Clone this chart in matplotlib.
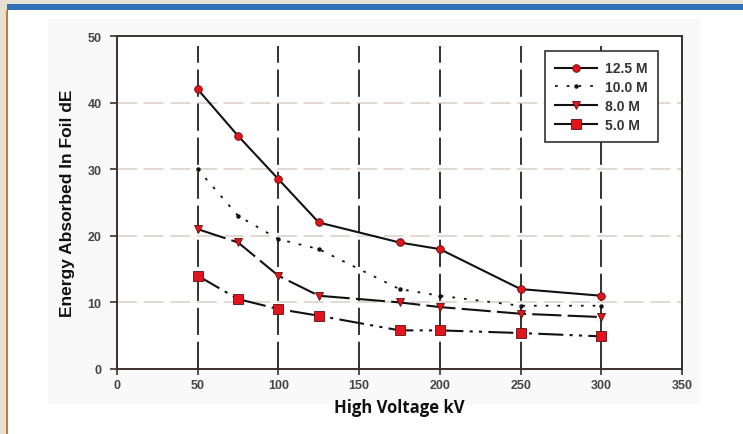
import matplotlib.pyplot as plt
from matplotlib.patches import Rectangle

# data
voltage = [50, 75, 100, 125, 175, 200, 250, 300]
de_12_5 = [42, 35, 28.5, 22, 19, 18, 12, 11]
de_10_0 = [30, 23, 19.5, 18, 12, 11, 9.5, 9.5]
de_8_0 = [21, 19, 14, 11, 10, 9.3, 8.3, 7.8]
de_5_0 = [14, 10.5, 9, 8, 5.8, 5.8, 5.4, 4.9]

x_ticks = [0, 50, 100, 150, 200, 250, 300, 350]
y_ticks = [0, 10, 20, 30, 40, 50]

W, H = 743, 435
fig = plt.figure(figsize=(W / 100, H / 100), dpi=100, facecolor="#e5e1d1")


def fx(px):
    return px / W


def fy(py):
    return 1 - py / H


# page frame: white panel, blue bar on top, orange left rule
fig.patches.append(Rectangle((fx(8), 0), 1 - fx(8), fy(11), transform=fig.transFigure,
                             facecolor="white", edgecolor="none", zorder=-3))
fig.patches.append(Rectangle((fx(48), fy(405)), fx(700 - 48), fy(20) - fy(405),
                             transform=fig.transFigure, facecolor="#f9f9f9",
                             edgecolor="none", zorder=-2))
fig.patches.append(Rectangle((fx(7), fy(11)), 1 - fx(7), fy(5) - fy(11), transform=fig.transFigure,
                             facecolor="#3470b8", edgecolor="none", zorder=-1))
fig.patches.append(Rectangle((fx(6), 0), fx(2), fy(11), transform=fig.transFigure,
                             facecolor="#c8783c", edgecolor="none", zorder=-1))

ax = fig.add_axes([fx(117), fy(370), fx(682 - 117), fy(37) - fy(370)])
ax.set_zorder(2)
ax.set_facecolor("white")

red = "#e3141c"
edge = "#5a1010"
ax.plot(voltage, de_12_5, color="#111111", lw=1.5, marker="o", ms=5.5,
        mfc=red, mec=edge, mew=0.6, label="12.5 M", zorder=5)
ax.plot(voltage, de_10_0, color="#111111", lw=1.3, ls=(0, (1.5, 5)), marker="o", ms=2.2,
        mfc="#111111", mec="#111111", label="10.0 M", zorder=5)
ax.plot(voltage, de_8_0, color="#111111", lw=1.5, ls=(0, (14, 3)), marker="v", ms=6,
        mfc=red, mec=edge, mew=0.6, label="8.0 M", zorder=5)
ax.plot(voltage, de_5_0, color="#111111", lw=1.5, ls=(0, (12, 3, 1.5, 3, 1.5, 3)), marker="s", ms=6.5,
        mfc=red, mec=edge, mew=0.6, label="5.0 M", zorder=5)

ax.set_xlim(0, 350)
ax.set_ylim(0, 50)
ax.set_xticks(x_ticks)
ax.set_yticks(y_ticks)

for x in x_ticks[1:-1]:
    ax.axvline(x, ymax=0.97, color="#3a3030", lw=1.4, ls=(0, (14, 3.5)), zorder=2)
for y in y_ticks[1:-1]:
    ax.axhline(y, color="#ddd2cc", lw=1.2, ls=(0, (12, 4)), zorder=1)

for s in ax.spines.values():
    s.set_color("#3a3030")
    s.set_linewidth(1.4)

ax.tick_params(axis="x", direction="inout", length=9, width=1.2, color="#3a3030",
               labelsize=9, labelcolor="#444444", pad=3)
ax.tick_params(axis="y", direction="out", length=5, width=1.2, color="#3a3030",
               labelsize=9, labelcolor="#444444", pad=6)
for lab in ax.get_xticklabels() + ax.get_yticklabels():
    lab.set_fontweight("bold")
    lab.set_family("Liberation Sans")

ax.set_xlabel("High Voltage kV", fontsize=12, fontweight="bold", family="Open Sans",
              color="#111111", labelpad=5)
ax.set_ylabel("Energy Absorbed In Foil dE", fontsize=12.5, fontweight="bold",
              family="Liberation Sans", color="#111111", labelpad=9)

leg = ax.legend(loc="upper right", bbox_to_anchor=(0.9575, 0.955), borderaxespad=0,
                frameon=True, fancybox=False, handlelength=3.0, handletextpad=0.6,
                borderpad=0.75, labelspacing=0.35,
                prop={"family": "Liberation Sans", "weight": "bold", "size": 10})
leg.get_frame().set_edgecolor("#3a3030")
leg.get_frame().set_linewidth(1.2)
leg.get_frame().set_alpha(1)
for t in leg.get_texts():
    t.set_color("#333333")
for h in leg.get_lines():
    h.set_linestyle("-")
leg.get_lines()[1].set_linestyle((0, (1.5, 5)))

fig.savefig("out.png", dpi=100, facecolor=fig.get_facecolor())
